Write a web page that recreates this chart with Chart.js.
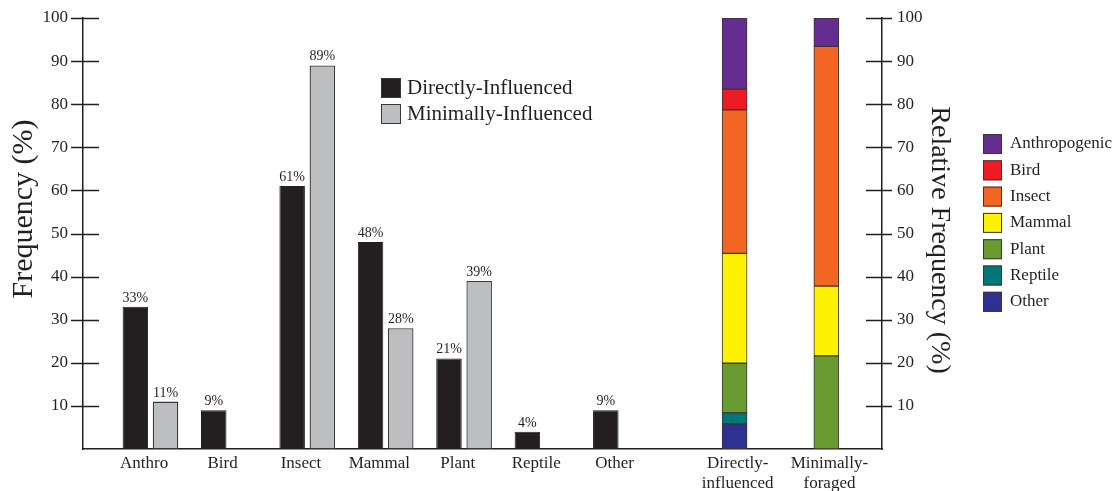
<!DOCTYPE html>
<html>
<head>
<meta charset="utf-8">
<script src="https://cdn.jsdelivr.net/npm/chart.js@4.4.1/dist/chart.umd.min.js"></script>
<style>
  html, body { margin: 0; padding: 0; background: #ffffff; }
  #wrap { width: 1115px; height: 491px; position: relative; }
</style>
</head>
<body>
<div id="wrap"><canvas id="chart" width="1115" height="491"></canvas></div>
<script>
// ---- data ----
const categories = ['Anthro', 'Bird', 'Insect', 'Mammal', 'Plant', 'Reptile', 'Other'];
const directlyInfluenced = [33, 9, 61, 48, 21, 4, 9];
const minimallyInfluenced = [11, null, 89, 28, 39, null, null];

const groupLabels = [['Directly-', 'influenced'], ['Minimally-', 'foraged']];
const sourceNames = ['Anthropogenic', 'Bird', 'Insect', 'Mammal', 'Plant', 'Reptile', 'Other'];
// relative frequency (%) of each source: [directly-influenced, minimally-foraged]
const relAnthropogenic = [16.5, 6.6];
const relBird = [4.8, null];
const relInsect = [33.3, 55.6];
const relMammal = [25.5, 16.2];
const relPlant = [11.5, 21.6];
const relReptile = [2.6, null];
const relOther = [5.8, null];

const yTickValues = [10, 20, 30, 40, 50, 60, 70, 80, 90, 100];

// ---- layout on the shared linear x axis ----
const xMin = -0.86, xMax = 9.33;
const groupPos = [7.45, 8.62];
const catLabelShift = -0.08;
const groupLabelShift = 0.04;

// ---- styles ----
const INK = '#231f20';
const FONT = '"Liberation Serif", "Times New Roman", Times, serif';
const sourceColors = {
  Anthropogenic: '#662d91',
  Bird: '#ed1c24',
  Insect: '#f26522',
  Mammal: '#fff200',
  Plant: '#6a9b30',
  Reptile: '#00787a',
  Other: '#2e3192'
};

Chart.defaults.font.family = FONT;
Chart.defaults.color = INK;

const relBySource = {
  Anthropogenic: relAnthropogenic, Bird: relBird, Insect: relInsect,
  Mammal: relMammal, Plant: relPlant, Reptile: relReptile, Other: relOther
};

const datasets = [
  {
    label: 'Directly-Influenced',
    data: categories.map((c, i) => ({ x: i, y: directlyInfluenced[i] })),
    backgroundColor: INK, borderColor: INK, borderWidth: 1,
    yAxisID: 'y', categoryPercentage: 0.77, barPercentage: 0.845,
    borderSkipped: false
  },
  {
    label: 'Minimally-Influenced',
    data: categories.map((c, i) => ({ x: i, y: minimallyInfluenced[i] })),
    backgroundColor: '#bcbec0', borderColor: '#3a3738', borderWidth: 1.3,
    yAxisID: 'y', categoryPercentage: 0.77, barPercentage: 0.845,
    borderSkipped: false
  }
];

// stacked bars: first dataset sits at the bottom of the stack
sourceNames.slice().reverse().forEach(name => {
  datasets.push({
    label: name,
    data: groupPos.map((p, g) => ({ x: p, y: relBySource[name][g] })),
    backgroundColor: sourceColors[name],
    borderColor: '#3b3536', borderWidth: 1,
    yAxisID: 'y2', stack: 'relative', grouped: false,
    barThickness: 25, borderSkipped: false
  });
});

const tickLabels = categories.concat(groupLabels);
const tickPositions = categories.map((c, i) => i + catLabelShift)
  .concat(groupPos.map(p => p + groupLabelShift));

const decorations = {
  id: 'decorations',
  afterDatasetsDraw(chart) {
    const ctx = chart.ctx;
    ctx.save();

    // tick crosses on both value axes
    ctx.strokeStyle = INK;
    ctx.lineWidth = 1.5;
    [['y', -12, 16], ['y2', -16, 10]].forEach(([id, a, b]) => {
      const s = chart.scales[id];
      const x0 = id === 'y' ? s.right : s.left;
      s.ticks.forEach(t => {
        const y = Math.round(s.getPixelForValue(t.value)) + 0.5;
        ctx.beginPath();
        ctx.moveTo(x0 + a, y);
        ctx.lineTo(x0 + b, y);
        ctx.stroke();
      });
    });

    // value labels above the grouped bars
    ctx.fillStyle = INK;
    ctx.font = '14px ' + FONT;
    ctx.textAlign = 'center';
    ctx.textBaseline = 'alphabetic';
    [0, 1].forEach(di => {
      const meta = chart.getDatasetMeta(di);
      const values = di === 0 ? directlyInfluenced : minimallyInfluenced;
      meta.data.forEach((bar, i) => {
        if (values[i] == null) return;
        ctx.fillText(values[i] + '%', bar.x, bar.y - 5);
      });
    });

    // axis titles
    ctx.save();
    ctx.font = '30px ' + FONT;
    ctx.translate(32, 209);
    ctx.rotate(-Math.PI / 2);
    ctx.fillText('Frequency (%)', 0, 0);
    ctx.restore();
    ctx.save();
    ctx.font = '28px ' + FONT;
    ctx.translate(932, 240);
    ctx.rotate(Math.PI / 2);
    ctx.fillText('Relative Frequency (%)', 0, 0);
    ctx.restore();

    // legend for the grouped bars
    ctx.textAlign = 'left';
    ctx.textBaseline = 'middle';
    ctx.font = '21px ' + FONT;
    [0, 1].forEach(k => {
      const ds = chart.data.datasets[k];
      const bx = 381, by = 78 + k * 26;
      ctx.fillStyle = ds.backgroundColor;
      ctx.fillRect(bx, by, 20, 20);
      ctx.strokeStyle = '#3a3738';
      ctx.lineWidth = 1;
      ctx.strokeRect(bx + 0.5, by + 0.5, 19, 19);
      ctx.fillStyle = INK;
      ctx.fillText(ds.label, bx + 26, by + 10);
    });

    // legend for the stacked bars, top of stack first
    ctx.font = '17px ' + FONT;
    const stackSets = chart.data.datasets.filter(d => d.stack === 'relative').reverse();
    stackSets.forEach((ds, k) => {
      const bx = 983, by = 134 + k * 26.3;
      ctx.fillStyle = ds.backgroundColor;
      ctx.fillRect(bx, by, 19, 20);
      ctx.strokeStyle = '#3b3536';
      ctx.lineWidth = 1;
      ctx.strokeRect(bx + 0.5, by + 0.5, 18, 19);
      ctx.fillStyle = INK;
      ctx.fillText(ds.label, 1010, by + 10);
    });

    ctx.restore();
  }
};

const fitValueAxis = width => s => {
  s.width = width;
  s.paddingTop = 0;
  s.paddingBottom = 0;
};

new Chart(document.getElementById('chart'), {
  type: 'bar',
  data: { datasets },
  options: {
    responsive: false,
    animation: false,
    events: [],
    layout: { padding: { left: 0, right: 173, top: 18, bottom: 0 } },
    plugins: { legend: { display: false }, tooltip: { enabled: false } },
    scales: {
      x: {
        type: 'linear',
        offset: false,
        min: xMin, max: xMax,
        stacked: false,
        grid: { display: false, drawTicks: false },
        border: { display: true, color: INK, width: 1.5 },
        afterBuildTicks: s => { s.ticks = tickPositions.map(v => ({ value: v })); },
        afterFit: s => { s.height = 42; s.paddingLeft = 0; s.paddingRight = 0; },
        ticks: {
          autoSkip: false, maxRotation: 0, includeBounds: false,
          padding: 4,
          font: { size: 17, family: FONT, lineHeight: 1.2 },
          color: INK,
          callback: (v, i) => tickLabels[i]
        }
      },
      y: {
        position: 'left',
        min: 0, max: 100,
        grid: { display: false, drawTicks: false },
        border: { display: true, color: INK, width: 1.5 },
        afterBuildTicks: s => { s.ticks = yTickValues.map(v => ({ value: v })); },
        afterFit: fitValueAxis(83),
        ticks: { padding: 15, font: { size: 17, family: FONT }, color: INK }
      },
      y2: {
        position: 'right',
        stacked: true,
        min: 0, max: 100,
        grid: { display: false, drawTicks: false },
        border: { display: true, color: INK, width: 1.5 },
        afterBuildTicks: s => { s.ticks = yTickValues.map(v => ({ value: v })); },
        afterFit: fitValueAxis(60),
        ticks: { padding: 15, font: { size: 17, family: FONT }, color: INK }
      }
    }
  },
  plugins: [decorations]
});
</script>
</body>
</html>
